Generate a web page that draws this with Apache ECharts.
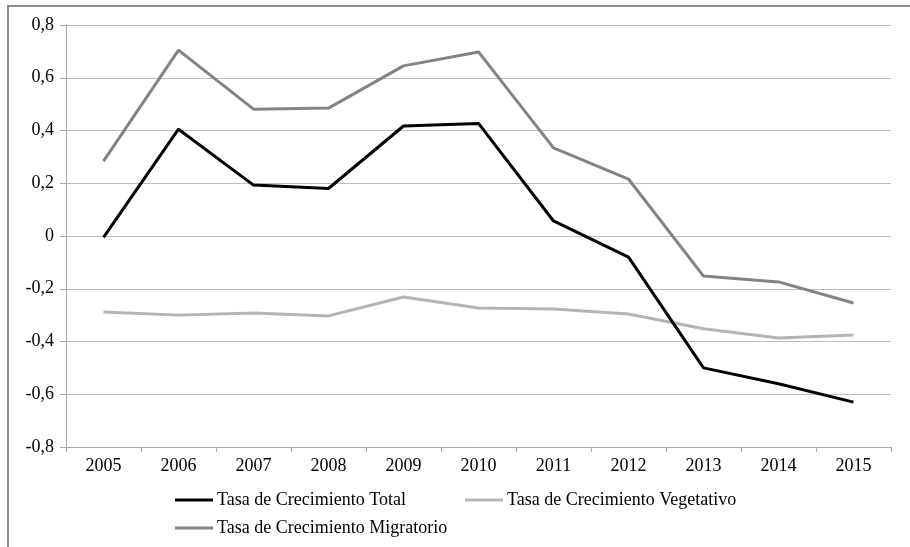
<!DOCTYPE html>
<html><head><meta charset="utf-8">
<script src="https://cdn.jsdelivr.net/npm/echarts@6/dist/echarts.min.js"></script>
<style>html,body{margin:0;padding:0;background:#fff}#c{width:910px;height:547px}</style>
</head><body><div id="c"></div>
<script>
var years = ['2005','2006','2007','2008','2009','2010','2011','2012','2013','2014','2015'];
var total = [-0.005, 0.405, 0.193, 0.180, 0.417, 0.427, 0.057, -0.080, -0.500, -0.560, -0.630];
var vegetativo = [-0.288, -0.300, -0.292, -0.303, -0.231, -0.273, -0.277, -0.296, -0.352, -0.387, -0.375];
var migratorio = [0.284, 0.705, 0.481, 0.485, 0.645, 0.698, 0.334, 0.216, -0.152, -0.174, -0.254];
var names = ['Tasa de Crecimiento Total','Tasa de Crecimiento Vegetativo','Tasa de Crecimiento Migratorio'];

var font = '"Liberation Serif", "DejaVu Serif", serif';
var fs = 18;
var chart = echarts.init(document.getElementById('c'));
var legendBase = {
  orient: 'horizontal', itemWidth: 38, itemHeight: 3, itemGap: 10, padding: 0,
  icon: 'rect',
  textStyle: {fontFamily: font, fontSize: fs, color: '#000', padding: [0,0,0,-1]}
};
chart.setOption({
  animation: false,
  graphic: [{type: 'rect', shape: {x: 8, y: 6, width: 920, height: 560},
    style: {fill: 'none', stroke: '#8c8c8c', lineWidth: 2}}],
  grid: {left: 66, right: 19, top: 25, bottom: 100},
  legend: [
    Object.assign({}, legendBase, {data: [names[0]], left: 175, top: 491}),
    Object.assign({}, legendBase, {data: [names[1]], left: 465, top: 491}),
    Object.assign({}, legendBase, {data: [names[2]], left: 175, top: 519})
  ],
  xAxis: {
    type: 'category', data: years, boundaryGap: true,
    axisLine: {onZero: false, lineStyle: {color: '#a6a6a6', width: 1}},
    axisTick: {show: true, length: 5, lineStyle: {color: '#a6a6a6'}},
    axisLabel: {fontFamily: font, fontSize: fs, color: '#000', margin: 10}
  },
  yAxis: {
    type: 'value', min: -0.8, max: 0.8, interval: 0.2,
    axisLine: {show: true, lineStyle: {color: '#a6a6a6', width: 1}},
    axisTick: {show: true, length: 6, lineStyle: {color: '#a6a6a6'}},
    splitLine: {lineStyle: {color: '#bfbfbf', width: 1}},
    axisLabel: {fontFamily: font, fontSize: fs, color: '#000', margin: 12,
      formatter: function (v) { return String(Number(v.toFixed(1))).replace('.', ','); }}
  },
  series: [
    {name: names[0], type: 'line', data: total, symbol: 'none', lineStyle: {color: '#000', width: 3}, itemStyle: {color: '#000'}, z: 4},
    {name: names[1], type: 'line', data: vegetativo, symbol: 'none', lineStyle: {color: '#b4b4b4', width: 3}, itemStyle: {color: '#b4b4b4'}, z: 2},
    {name: names[2], type: 'line', data: migratorio, symbol: 'none', lineStyle: {color: '#838383', width: 3}, itemStyle: {color: '#838383'}, z: 3}
  ]
});
</script></body></html>
